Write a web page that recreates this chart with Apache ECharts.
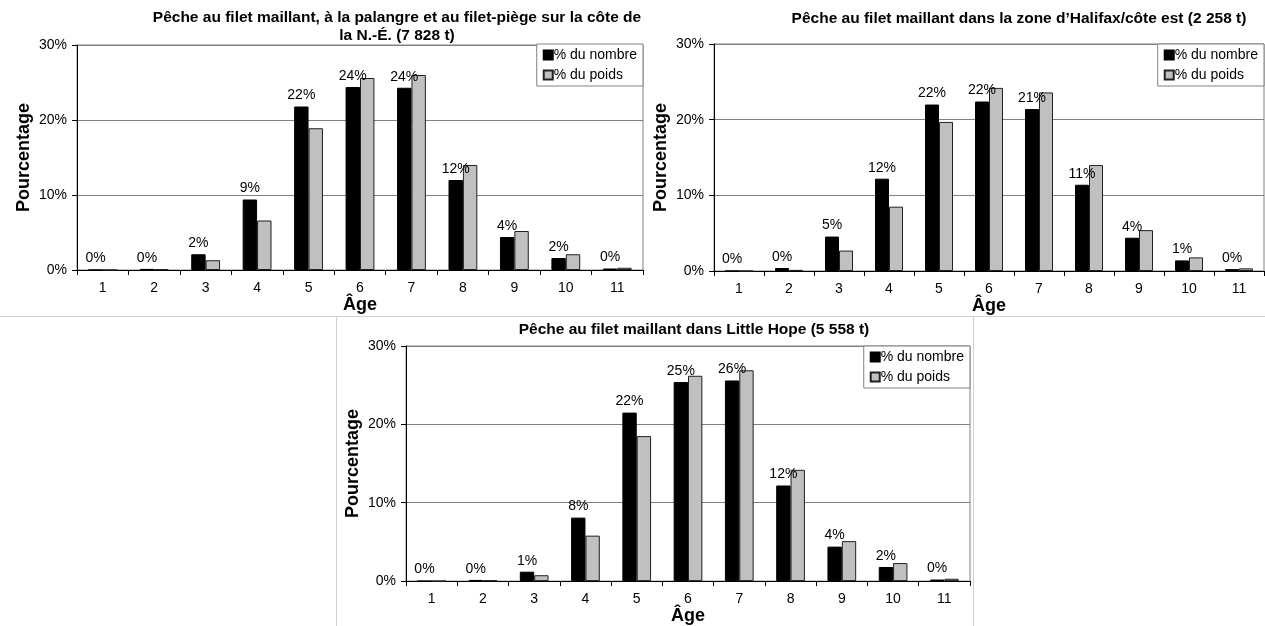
<!DOCTYPE html>
<html><head><meta charset="utf-8">
<script src="https://cdn.jsdelivr.net/npm/echarts@6/dist/echarts.min.js"></script>
<style>html,body{margin:0;padding:0;background:#fff}#c{width:1265px;height:626px}</style>
</head><body><div id="c"></div>
<script>
const ages = ['1','2','3','4','5','6','7','8','9','10','11'];
const seriesNames = ['% du nombre', '% du poids'];
const titles = [
  'Pêche au filet maillant, à la palangre et au filet-piège sur la côte de\nla N.-É. (7 828 t)',
  'Pêche au filet maillant dans la zone d\u2019Halifax/côte est (2 258 t)',
  'Pêche au filet maillant dans Little Hope (5 558 t)'
];
const yAxisName = 'Pourcentage';
const xAxisName = 'Âge';
const nombre1 = [0, 0.15, 2.1, 9.4, 21.8, 24.4, 24.3, 12.0, 4.4, 1.6, 0.2];
const poids1  = [0, 0.1, 1.3, 6.6, 18.9, 25.6, 26.0, 14.0, 5.2, 2.1, 0.3];
const nombre2 = [0, 0.4, 4.55, 12.2, 22.0, 22.4, 21.4, 11.4, 4.4, 1.4, 0.25];
const poids2  = [0, 0.15, 2.7, 8.5, 19.7, 24.2, 23.6, 14.0, 5.4, 1.8, 0.35];
const nombre3 = [0, 0.15, 1.2, 8.1, 21.5, 25.4, 25.6, 12.2, 4.4, 1.8, 0.2];
const poids3  = [0, 0.1, 0.75, 5.8, 18.5, 26.2, 26.9, 14.2, 5.1, 2.3, 0.3];
const nombreAll = [nombre1, nombre2, nombre3];
const poidsAll = [poids1, poids2, poids3];

const FONT = '"Liberation Sans", Arial, sans-serif';
const grids = [
  {left: 77, top: 45, width: 566, height: 225},
  {left: 714, top: 44, width: 550, height: 227},
  {left: 406, top: 346, width: 564, height: 236}
];
const titlePos = [{x: 397, y: 9}, {x: 1019, y: 10}, {x: 694, y: 321}];
const legendPos = [{right: 622, top: 44}, {right: 1, top: 44}, {right: 295, top: 346}];

const option = {
  animation: false,
  backgroundColor: '#fff',
  textStyle: {fontFamily: FONT},
  title: titles.map((t, i) => ({
    text: t, left: titlePos[i].x, top: titlePos[i].y, textAlign: 'center', padding: 0,
    textStyle: {fontFamily: FONT, fontSize: 15.5, fontWeight: 'bold', color: '#000', lineHeight: 18}
  })),
  legend: legendPos.map((p, i) => ({
    data: seriesNames, orient: 'vertical', right: p.right, top: p.top,
    itemWidth: 9, itemHeight: 9, itemGap: 6, padding: [4, 6, 4, 6],
    borderColor: '#808080', borderWidth: 1, backgroundColor: '#fff',
    icon: 'rect', selectedMode: false,
    textStyle: {fontFamily: FONT, fontSize: 14, color: '#000', padding: [0, 0, 0, -4]}
  })),
  grid: grids.map(g => Object.assign({show: true, borderColor: '#808080', borderWidth: 1, backgroundColor: 'transparent'}, g)),
  xAxis: grids.map((g, i) => ({
    type: 'category', gridIndex: i, data: ages,
    name: xAxisName, nameLocation: 'middle', nameGap: 20,
    nameTextStyle: {fontFamily: FONT, fontSize: 18, fontWeight: 'bold', color: '#000', verticalAlign: 'top'},
    axisLine: {lineStyle: {color: '#000', width: 1}},
    axisTick: {show: true, length: 5, lineStyle: {color: '#000'}},
    axisLabel: {fontFamily: FONT, fontSize: 14, color: '#000', margin: 11}
  })),
  yAxis: grids.map((g, i) => ({
    type: 'value', gridIndex: i, min: 0, max: 30, interval: 10,
    name: yAxisName, nameLocation: 'middle', nameGap: 44,
    nameTextStyle: {fontFamily: FONT, fontSize: 18, fontWeight: 'bold', color: '#000'},
    axisLine: {show: true, lineStyle: {color: '#000', width: 1}},
    axisTick: {show: true, length: 5, lineStyle: {color: '#000'}},
    axisLabel: {fontFamily: FONT, fontSize: 14, color: '#000', margin: 10, formatter: '{value}%'},
    splitLine: {show: true, lineStyle: {color: '#808080', width: 1}}
  })),
  series: [],
  graphic: [
    {type: 'line', shape: {x1: 0, y1: 316.5, x2: 1265, y2: 316.5}, style: {stroke: '#d0d0d0', lineWidth: 1}, silent: true},
    {type: 'line', shape: {x1: 336.5, y1: 316, x2: 336.5, y2: 626}, style: {stroke: '#d0d0d0', lineWidth: 1}, silent: true},
    {type: 'line', shape: {x1: 973.5, y1: 316, x2: 973.5, y2: 626}, style: {stroke: '#d0d0d0', lineWidth: 1}, silent: true}
  ]
};

for (let i = 0; i < 3; i++) {
  option.series.push({
    name: seriesNames[0], type: 'bar', xAxisIndex: i, yAxisIndex: i,
    data: nombreAll[i], barWidth: '28%', barGap: '0%',
    itemStyle: {color: '#000', borderColor: '#000', borderWidth: 1},
    label: {show: true, position: 'top', distance: 4, fontFamily: FONT, fontSize: 14, color: '#000',
      formatter: p => Math.round(p.value) + '%'},
    z: 3
  });
  option.series.push({
    name: seriesNames[1], type: 'bar', xAxisIndex: i, yAxisIndex: i,
    data: poidsAll[i], barWidth: '28%', barGap: '0%',
    itemStyle: {color: '#c0c0c0', borderColor: '#202020', borderWidth: 1},
    z: 2
  });
}

const chart = echarts.init(document.getElementById('c'), null, {renderer: 'canvas'});
chart.setOption(option);
</script>
</body></html>
